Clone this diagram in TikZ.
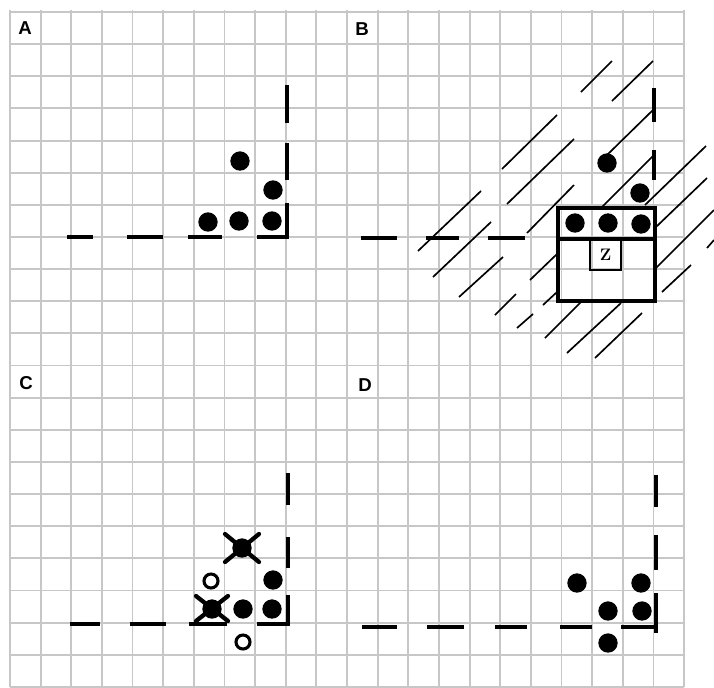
\documentclass[tikz,border=0pt]{standalone}
\usepackage{fontspec}
\newfontfamily\labfont{Liberation Sans}
\begin{document}
\begin{tikzpicture}[x=0.75pt,y=-0.75pt,
  gridline/.style={draw=black!22, line width=1.4pt},
  dashseg/.style={line width=2.6pt},
  hatch/.style={line width=1.25pt},
  dot/.style={circle, fill=black, inner sep=0pt, minimum size=14.5pt},
  odot/.style={circle, draw=black, line width=2.3pt, inner sep=0pt, minimum size=10.5pt},
  xmark/.style={line width=3.2pt, line cap=round},
  panel/.style={font=\labfont\bfseries\fontsize{14}{16}\selectfont, inner sep=0pt},
  boxline/.style={line width=2.6pt},
  zbox/.style={line width=2.1pt},
]
\useasboundingbox[fill=white] (0,0) rectangle (714,687);

% grid
\foreach \i in {0,...,22} \draw[gridline] ({10+30.64*\i},10) -- ({10+30.64*\i},687);
\foreach \j in {0,...,21} \draw[gridline] (10,{12+32.14*\j}) -- (684,{12+32.14*\j});

% panel labels
\node[panel] (lA) at (25,28) {A};
\node[panel] (lB) at (362,29) {B};
\node[panel] (lC) at (26,383) {C};
\node[panel] (lD) at (365,385) {D};

% ---------- Panel A ----------
\foreach \a/\b in {67/93,127/163,188/222} \draw[dashseg] (\a,237) -- (\b,237);
\foreach \a/\b in {85/123,143/180} \draw[dashseg] (287,\a) -- (287,\b);
\draw[dashseg] (257,237) -- (287,237) -- (287,203);
\node[dot] (a1) at (240,161) {};
\node[dot] (a2) at (273,190) {};
\node[dot] (a3) at (208,222) {};
\node[dot] (a4) at (239,221) {};
\node[dot] (a5) at (272,221) {};

% ---------- Panel B ----------
\foreach \a/\b/\c/\d in {
  581/92/612/61, 612/101/653/61, 607/155/654/109, 502/169/557/115,
  507/204/574/139, 602/207/654/155, 418/251/481/191, 527/233/574/185,
  645/205/706/146, 656/227/707/178, 656/268/714/210, 707/248/714/240,
  662/292/691/265, 433/277/491/222, 459/297/503/257, 495/315/516/294,
  517/328/533/314, 530/280/557/254, 543/305/557/292, 545/338/581/302,
  567/353/621/303, 595/358/642/313}
  \draw[hatch] (\a,\b) -- (\c,\d);
\foreach \a/\b in {361/397,426/459,488/525} \draw[dashseg] (\a,238) -- (\b,238);
\foreach \a/\b in {88/122,150/180} \draw[dashseg] (654,\a) -- (654,\b);
\draw[boxline] (558,208) rectangle (655,301);
\draw[boxline] (558,239) -- (655,239);
\node[zbox, draw, minimum width=23.25pt, minimum height=23.25pt, inner sep=0pt,
      font=\bfseries\fontsize{12.5}{13}\selectfont] (zb) at (605.5,254.5) {Z};
\node[dot] (b1) at (607,163) {};
\node[dot] (b2) at (640,193) {};
\node[dot] (b3) at (575,223) {};
\node[dot] (b4) at (608,223) {};
\node[dot] (b5) at (641,224) {};

% ---------- Panel C ----------
\foreach \a/\b in {70/100,130/166,189/227} \draw[dashseg] (\a,624) -- (\b,624);
\foreach \a/\b in {473/505,537/568} \draw[dashseg] (288,\a) -- (288,\b);
\draw[dashseg] (257,624) -- (288,624) -- (288,595);
\node[dot] (c1) at (242,548) {};
\node[dot] (c2) at (273,580) {};
\node[dot] (c3) at (212,609) {};
\node[dot] (c4) at (243,609) {};
\node[dot] (c5) at (272,609) {};
\node[odot] (c6) at (211,581) {};
\node[odot] (c7) at (243,642) {};
\draw[xmark] ([shift={(-17,-14)}]c1.center) -- ([shift={(17,14)}]c1.center);
\draw[xmark] ([shift={(-17,14)}]c1.center) -- ([shift={(17,-14)}]c1.center);
\draw[xmark] ([shift={(-16,-13)}]c3.center) -- ([shift={(16,12)}]c3.center);
\draw[xmark] ([shift={(-16,12)}]c3.center) -- ([shift={(16,-13)}]c3.center);

% ---------- Panel D ----------
\foreach \a/\b in {362/397,427/464,495/527,560/592} \draw[dashseg] (\a,627) -- (\b,627);
\foreach \a/\b in {475/507,535/570} \draw[dashseg] (656,\a) -- (656,\b);
\draw[dashseg] (621,627) -- (656,627);
\draw[dashseg] (656,593) -- (656,633);
\node[dot] (d1) at (577,583) {};
\node[dot] (d2) at (641,583) {};
\node[dot] (d3) at (608,611) {};
\node[dot] (d4) at (642,611) {};
\node[dot] (d5) at (608,643) {};
\end{tikzpicture}
\end{document}
